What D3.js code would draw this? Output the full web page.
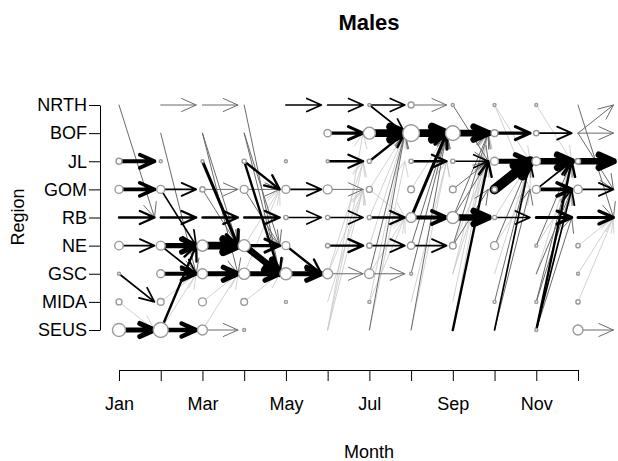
<!DOCTYPE html>
<html>
<head>
<meta charset="utf-8">
<script src="https://cdn.jsdelivr.net/npm/d3@7"></script>
<style>
  html, body { margin: 0; padding: 0; background: #fff; }
  svg { display: block; font-family: "Liberation Sans", Arial, Helvetica, sans-serif; }
</style>
</head>
<body>
<svg id="chart" width="618" height="461"></svg>
<script>
// Monthly movements of tracked males between regions.
const months = ["Jan","Feb","Mar","Apr","May","Jun","Jul","Aug","Sep","Oct","Nov","Dec"];
// regions listed bottom to top
const regions = ["SEUS","MIDA","GSC","NE","RB","GOM","JL","BOF","NRTH"];
// only every other month gets a printed label
const monthTickLabels = ["Jan","","Mar","","May","","Jul","","Sep","","Nov",""];

// individuals seen in a region during a month: [month, region, count]
const residents = [
  [0,"JL",4],[0,"GOM",7],[0,"NE",8],[0,"GSC",1],[0,"MIDA",4],[0,"SEUS",19],
  [1,"JL",1],[1,"GOM",7],[1,"NE",9],[1,"GSC",7],[1,"MIDA",5],[1,"SEUS",25],
  [2,"JL",1],[2,"GOM",3],[2,"NE",14],[2,"GSC",11],[2,"MIDA",7],[2,"SEUS",11],
  [3,"JL",2],[3,"GOM",7],[3,"NE",16],[3,"GSC",14],[3,"MIDA",5],[3,"SEUS",1],
  [4,"JL",1],[4,"GOM",7],[4,"RB",2],[4,"NE",7],[4,"GSC",16],[4,"MIDA",1],
  [5,"BOF",6],[5,"JL",1],[5,"GOM",9],[5,"RB",2],[5,"NE",2],[5,"GSC",11],
  [6,"NRTH",1],[6,"BOF",16],[6,"JL",2],[6,"GOM",4],[6,"RB",2],[6,"NE",3],[6,"GSC",10],[6,"MIDA",1],
  [7,"NRTH",4],[7,"BOF",31],[7,"JL",2],[7,"GOM",5],[7,"RB",11],[7,"NE",6],[7,"GSC",1],
  [8,"NRTH",1],[8,"BOF",24],[8,"JL",2],[8,"GOM",5],[8,"RB",16],[8,"NE",5],
  [9,"NRTH",1],[9,"BOF",5],[9,"JL",7],[9,"GOM",3],[9,"RB",2],[9,"NE",7],[9,"MIDA",1],
  [10,"NRTH",1],[10,"BOF",3],[10,"JL",8],[10,"GOM",7],[10,"NE",1],[10,"MIDA",1],[10,"SEUS",1],
  [11,"JL",3],[11,"GOM",8],[11,"NE",2],[11,"GSC",1],[11,"MIDA",2],[11,"SEUS",11]
];

// movements from one month to the next: [month, from, to, count]
const moves = [
  [0,"NRTH","RB",2],[0,"JL","JL",6],[0,"GOM","GOM",6],[0,"RB","RB",4],[0,"NE","NE",3],
  [0,"GSC","MIDA",3],[0,"MIDA","SEUS",1],[0,"SEUS","SEUS",8],

  [1,"NRTH","NRTH",2],[1,"BOF","GSC",2],[1,"GOM","GOM",3],[1,"GOM","NE",3],[1,"RB","RB",4],
  [1,"NE","NE",8],[1,"NE","GSC",3],[1,"GSC","GSC",6],[1,"MIDA","GSC",1],[1,"SEUS","SEUS",7],
  [1,"SEUS","NE",4],[1,"SEUS","GSC",1],

  [2,"NRTH","NRTH",2],[2,"BOF","NE",2],[2,"BOF","GSC",2],[2,"JL","NE",5],[2,"GOM","GOM",2],
  [2,"GOM","NE",2],[2,"RB","RB",4],[2,"NE","NE",12],[2,"GSC","GSC",8],[2,"MIDA","GSC",1],
  [2,"SEUS","SEUS",2],[2,"SEUS","GSC",1],

  [3,"NRTH","GSC",2],[3,"BOF","GSC",2],[3,"BOF","NE",2],[3,"JL","GOM",4],[3,"JL","GSC",4],
  [3,"GOM","GOM",2],[3,"GOM","NE",2],[3,"RB","RB",4],[3,"NE","NE",5],[3,"NE","GSC",10],
  [3,"GSC","GSC",8],[3,"MIDA","GSC",1],[3,"GSC","GOM",1],[3,"NE","GOM",1],

  [4,"NRTH","NRTH",3],[4,"GOM","GOM",3],[4,"RB","RB",3],[4,"NE","GSC",4],[4,"GSC","GSC",8],

  [5,"NRTH","NRTH",3],[5,"BOF","BOF",5],[5,"JL","JL",4],[5,"GOM","GOM",2],[5,"RB","RB",3],
  [5,"NE","NE",4],[5,"GSC","GSC",2],[5,"SEUS","BOF",1],[5,"SEUS","JL",1],[5,"SEUS","GOM",1],
  [5,"MIDA","GOM",1],[5,"GSC","JL",1],[5,"GSC","GOM",1],

  [6,"NRTH","NRTH",3],[6,"NRTH","BOF",3],[6,"BOF","BOF",12],[6,"JL","BOF",4],[6,"GOM","BOF",1],
  [6,"GOM","RB",1],[6,"RB","RB",4],[6,"NE","NE",3],[6,"GSC","GSC",2],[6,"GSC","BOF",2],
  [6,"SEUS","BOF",2],[6,"MIDA","BOF",1],[6,"NE","BOF",1],[6,"RB","BOF",1],[6,"SEUS","JL",1],
  [6,"MIDA","RB",1],[6,"GSC","RB",1],

  [7,"NRTH","NRTH",2],[7,"BOF","BOF",12],[7,"JL","JL",4],[7,"RB","BOF",5],[7,"RB","RB",6],
  [7,"NE","NE",3],[7,"NE","BOF",2],[7,"GSC","BOF",2],[7,"SEUS","BOF",2],[7,"MIDA","JL",1],
  [7,"GOM","BOF",1],[7,"SEUS","JL",1],

  [8,"NRTH","JL",2],[8,"BOF","BOF",10],[8,"JL","JL",3],[8,"GOM","JL",2],[8,"RB","RB",10],
  [8,"NE","GOM",2],[8,"SEUS","JL",4],[8,"GSC","BOF",1],[8,"MIDA","BOF",1],[8,"NE","JL",1],
  [8,"RB","JL",2],[8,"GSC","JL",1],[8,"SEUS","BOF",1],[8,"RB","BOF",2],[8,"NE","BOF",2],

  [9,"NRTH","JL",1],[9,"NRTH","GOM",1],[9,"BOF","BOF",5],[9,"JL","JL",8],[9,"GOM","JL",15],
  [9,"RB","RB",3],[9,"NE","JL",2],[9,"SEUS","JL",3],[9,"MIDA","JL",2],[9,"SEUS","GOM",2],
  [9,"GSC","JL",1],[9,"NE","GOM",1],[9,"RB","JL",1],

  [10,"NRTH","JL",1],[10,"BOF","BOF",3],[10,"JL","JL",10],[10,"GOM","GOM",6],[10,"GOM","JL",3],
  [10,"RB","RB",5],[10,"NE","JL",2],[10,"SEUS","JL",4],[10,"SEUS","GOM",3],[10,"MIDA","GOM",2],
  [10,"MIDA","JL",2],[10,"GSC","GOM",2],[10,"SEUS","RB",2],[10,"GSC","JL",1],[10,"NE","GOM",1],

  [11,"NRTH","RB",2],[11,"BOF","NRTH",2],[11,"BOF","BOF",2],[11,"BOF","GOM",2],[11,"JL","JL",10],
  [11,"GOM","GOM",3],[11,"RB","RB",5],[11,"SEUS","SEUS",2],[11,"GSC","RB",1],[11,"NE","RB",1],
  [11,"MIDA","RB",1]
];

const svg = d3.select("#chart");

// month index -> x ; region index (1 = bottom) -> y
const x = d3.scaleLinear().domain([0, 11]).range([119, 578]);
const y = d3.scaleLinear().domain([1, 9]).range([330, 105]);
const regionY = r => y(regions.indexOf(r) + 1);

const lineWidth = d3.scaleLinear().domain([1, 2, 15]).range([0.8, 1, 10]);
const lineColor = d3.scaleLinear().domain([1, 2, 3]).range(["#c6c6c6", "#6a6a6a", "#000000"]).clamp(true);
const radius = d3.scaleSqrt().domain([0, 36]).range([0, 9]);

const headLen = 16, headAngle = 24 * Math.PI / 180;
function arrowPath(x0, y0, x1, y1) {
  const a = Math.atan2(y1 - y0, x1 - x0);
  const ax = x1 - headLen * Math.cos(a - headAngle), ay = y1 - headLen * Math.sin(a - headAngle);
  const bx = x1 - headLen * Math.cos(a + headAngle), by = y1 - headLen * Math.sin(a + headAngle);
  return `M${x0},${y0}L${x1},${y1}M${ax},${ay}L${x1},${y1}L${bx},${by}`;
}

// arrows, lightest first so heavy flows sit on top
const arrowData = moves.slice().sort((a, b) => a[3] - b[3]);
svg.append("g").attr("class", "moves")
  .selectAll("path").data(arrowData).join("path")
  .attr("d", d => arrowPath(x(d[0]), regionY(d[1]), x(d[0] + 1 - 0.15), regionY(d[2])))
  .attr("fill", "none")
  .attr("stroke", d => lineColor(d[3]))
  .attr("stroke-width", d => lineWidth(d[3]))
  .attr("stroke-linecap", "round")
  .attr("stroke-linejoin", "round");

// region/month occupancy circles
svg.append("g").attr("class", "residents")
  .selectAll("circle").data(residents).join("circle")
  .attr("cx", d => x(d[0]))
  .attr("cy", d => regionY(d[1]))
  .attr("r", d => radius(d[2]))
  .attr("fill", "#fff")
  .attr("stroke", "#9a9a9a")
  .attr("stroke-width", 1.4);

// axes
const xAxis = d3.axisBottom(x)
  .tickValues(d3.range(12))
  .tickFormat(i => monthTickLabels[i])
  .tickSize(11).tickSizeOuter(0).tickPadding(16);
const gx = svg.append("g").attr("transform", "translate(0,370)").call(xAxis);

const yAxis = d3.axisLeft(y)
  .tickValues(d3.range(1, 10))
  .tickFormat(i => regions[i - 1])
  .tickSize(11).tickSizeOuter(0).tickPadding(2);
const gy = svg.append("g").attr("transform", "translate(100,0)").call(yAxis);

[gx, gy].forEach(g => {
  g.selectAll("path, line").attr("stroke", "#000").attr("stroke-width", 1);
  g.selectAll("text").attr("fill", "#000").style("font-size", "18px")
    .style("font-family", '"Liberation Sans", Arial, sans-serif');
});

// titles
svg.append("text").attr("x", 369).attr("y", 30).attr("text-anchor", "middle")
  .style("font-size", "22px").style("font-weight", "bold").text("Males");
svg.append("text").attr("x", 369).attr("y", 458).attr("text-anchor", "middle")
  .style("font-size", "18px").text("Month");
svg.append("text").attr("transform", "translate(24,217) rotate(-90)").attr("text-anchor", "middle")
  .style("font-size", "18px").text("Region");
</script>
</body>
</html>
